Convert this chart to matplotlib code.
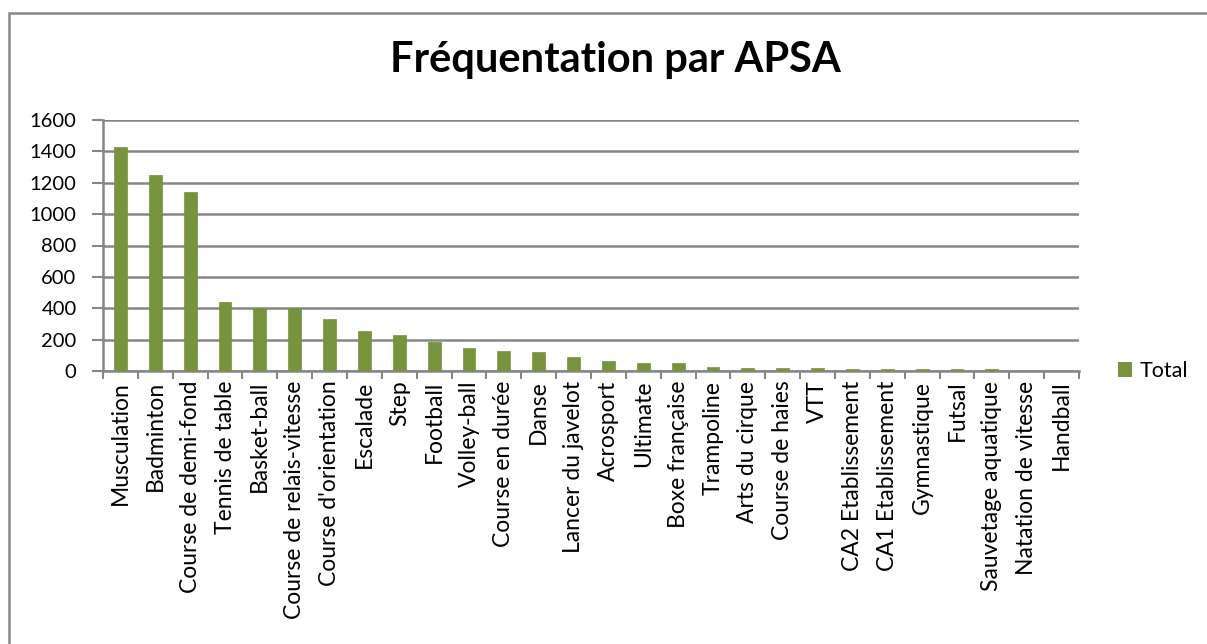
import matplotlib
matplotlib.use("Agg")
import matplotlib.pyplot as plt
from matplotlib.patches import Rectangle, Patch
import numpy as np

# Data
categories = ["Musculation", "Badminton", "Course de demi-fond", "Tennis de table",
              "Basket-ball", "Course de relais-vitesse", "Course d'orientation",
              "Escalade", "Step", "Football", "Volley-ball", "Course en durée",
              "Danse", "Lancer du javelot", "Acrosport", "Ultimate", "Boxe française",
              "Trampoline", "Arts du cirque", "Course de haies", "VTT",
              "CA2 Etablissement", "CA1 Etablissement", "Gymnastique", "Futsal",
              "Sauvetage aquatique", "Natation de vitesse", "Handball"]
totals = [1430, 1247, 1139, 438, 404, 400, 330, 257, 231, 187, 147, 128,
          121, 89, 66, 50, 50, 25, 17, 17, 17, 11, 11, 11, 11, 11, 1, 1]
yticks = [0, 200, 400, 600, 800, 1000, 1200, 1400, 1600]

green = "#77933c"
grid_col = "#868686"
plt.rcParams['font.family'] = ['Lato', 'DejaVu Sans']

W, H = 1207, 644
fig = plt.figure(figsize=(W / 100, H / 100), dpi=100)

# chart border (right edge runs off the screenshot)
fig.patches.append(Rectangle((9 / W, -0.05), 1.2, 1.05 - 12.5 / H,
                             transform=fig.transFigure, fill=False,
                             edgecolor=grid_col, linewidth=1.8))

ax = fig.add_axes([103 / W, (H - 371) / H, 976 / W, 251 / H])
x = np.arange(len(categories))
ax.bar(x, totals, width=0.37, color=green, edgecolor=green, linewidth=0.5,
       zorder=3, label="Total")

ax.set_ylim(0, 1600)
ax.set_xlim(-0.5, len(categories) - 0.5)
ax.set_yticks(yticks)
ax.set_yticklabels([str(v) for v in yticks], fontsize=14.5)
ax.yaxis.grid(True, color=grid_col, linewidth=1.8, zorder=0)

ax.set_xticks(x)
ax.set_xticklabels(categories, rotation=90, fontsize=16.5)
ax.tick_params(axis="x", which="major", length=0, pad=7)
ax.set_xticks(np.arange(-0.5, len(categories)), minor=True)
ax.tick_params(axis="x", which="minor", length=6, width=1.5, color=grid_col)
ax.tick_params(axis="y", length=8, width=1.5, color=grid_col, pad=11)

for s in ["top", "right"]:
    ax.spines[s].set_visible(False)
for s in ["left", "bottom"]:
    ax.spines[s].set_color(grid_col)
    ax.spines[s].set_linewidth(1.8)

fig.text(615 / W, 1 - 60 / H, "Fréquentation par APSA", ha="center", va="center",
         fontsize=30, fontweight="bold")

fig.legend(handles=[Patch(facecolor=green, label="Total")],
           loc="center left", bbox_to_anchor=(1112 / W, 1 - 371 / H),
           frameon=False, fontsize=15.5, handlelength=0.65, handleheight=0.65,
           handletextpad=0.35, borderpad=0, borderaxespad=0.3)

fig.savefig("out.png", dpi=100)
